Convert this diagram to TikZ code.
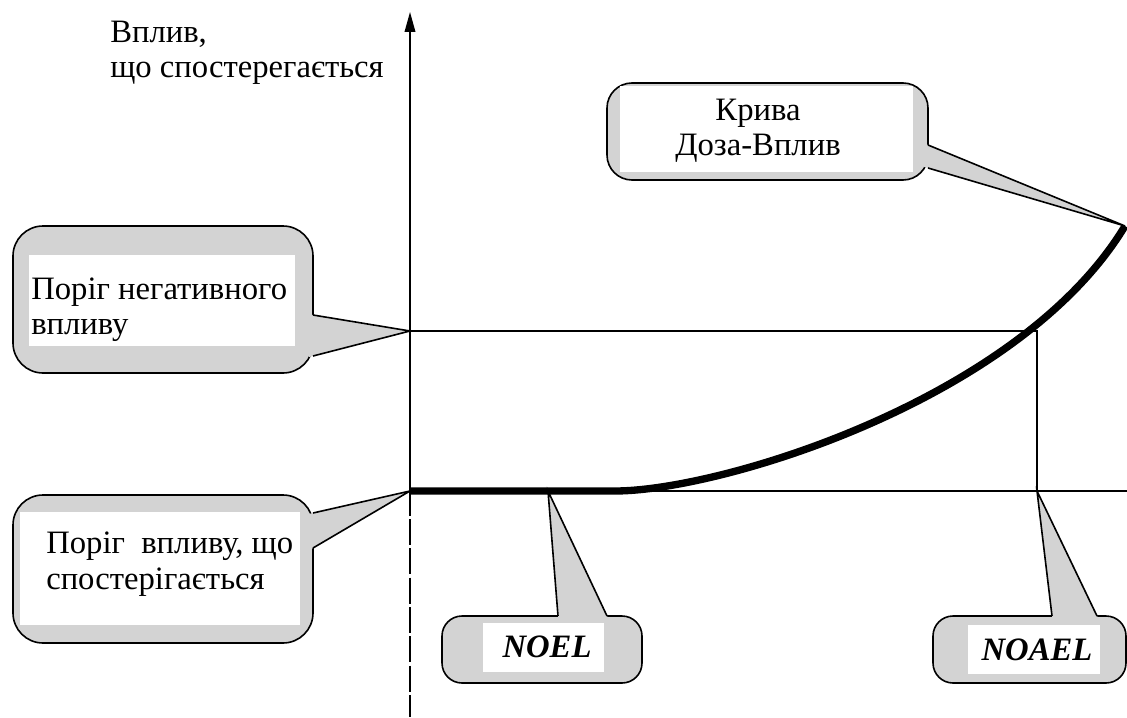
\documentclass[tikz,border=0pt]{standalone}
\usepackage{fontspec}
\setmainfont{Liberation Serif}
\usetikzlibrary{calc,arrows.meta}
\definecolor{calloutgray}{RGB}{211,211,211}

% rounded callout body: name, x1, y1, x2, y2, corner radius (pt)
\newcommand\calloutbox[6]{%
  \node[calbox, minimum width={(#4-#2)*0.75pt}, minimum height={(#5-#3)*0.75pt},
        rounded corners=#6] (#1) at ({(#2+#4)/2},{(#3+#5)/2}) {};}
% pointer of a callout: base point 1, base point 2, tip
\newcommand\drawpointer[3]{%
  \fill[calloutgray] ($(#1)!-3pt!(#3)$) -- (#3) -- ($(#2)!-3pt!(#3)$) -- cycle;
  \draw[calline] (#1) -- (#3) -- (#2);}

\begin{document}
\begin{tikzpicture}[x=0.75pt,y=-0.75pt,
  thin/.style={line width=1.1pt},
  curve/.style={line width=5.5pt},
  calbox/.style={draw, fill=calloutgray, line width=1.2pt, inner sep=0pt, outer sep=0pt},
  calline/.style={line width=1.2pt},
  lbl/.style={font=\fontsize{24.5}{26.5}\selectfont, inner sep=0pt},
  bilbl/.style={font=\fontsize{24.5}{26.5}\selectfont\bfseries\itshape, inner sep=0pt},
  ]
\useasboundingbox (0,0) rectangle (1127,717);

% chart points
\coordinate (AxisTop) at (410,12);
\coordinate (AxisLow) at (410,516);
\coordinate (DashTop) at (410,519);
\coordinate (AxisBot) at (410,717);
\coordinate (O) at (410,491);
\coordinate (T) at (410,331);
\coordinate (C) at (1037,331);
\coordinate (D) at (1037,491);
\coordinate (R) at (1127,491);
\coordinate (N) at (548,491);
\coordinate (Flat) at (615,491);
\coordinate (Kend) at (1125,226);

% axes and guide lines
\draw[thin,-{Triangle[length=15pt,width=8pt]}] (AxisLow) -- (AxisTop);
\draw[thin,dash pattern=on 19.5pt off 2.5pt] (DashTop) -- (AxisBot);
\draw[thin] (T) -- (C) -- (D);
\draw[thin] (O) -- (R);

% dose-response curve
\draw[curve] (O) -- (Flat) .. controls (720,491) and (1020,400) .. (Kend);

% axis label
\node[lbl, anchor=west, align=left] (ylabel) at (110,53) {Вплив,\\що спостерегається};

% callout: curve
\calloutbox{kbox}{607}{83}{928}{180}{18.75pt}
\coordinate (kb1) at ($(kbox.north east)+(0,62)$);
\coordinate (kb2) at ($(kbox.north east)+(0,85)$);
\drawpointer{kb1}{kb2}{Kend}
\fill[white] (620,86) rectangle (913,172);
\node[lbl, align=center] (ktext) at (758,131) {Крива\\Доза-Вплив};

% callout: adverse effect threshold
\calloutbox{abox}{13}{226}{313}{373}{22.5pt}
\coordinate (ab1) at ($(abox.north east)+(0,89)$);
\coordinate (ab2) at ($(abox.north east)+(0,130)$);
\drawpointer{ab1}{ab2}{T}
\fill[white] (29,255) rectangle (295,346);
\node[lbl, anchor=west, align=left] (atext) at (31,310) {Поріг негативного\\впливу};

% callout: observed effect threshold
\calloutbox{obox}{13}{495}{313}{643}{22.5pt}
\coordinate (ob1) at ($(obox.north east)+(0,18)$);
\coordinate (ob2) at ($(obox.north east)+(0,53)$);
\drawpointer{ob1}{ob2}{O}
\fill[white] (20,512) rectangle (300,625);
\node[lbl, anchor=west, align=left] (otext) at (46,564) {Поріг\ \ впливу, що\\спостерігається};

% callout: NOEL
\calloutbox{nbox}{442}{616}{642}{683}{15pt}
\coordinate (nb1) at ($(nbox.north west)+(116,0)$);
\coordinate (nb2) at ($(nbox.north west)+(165,0)$);
\drawpointer{nb1}{nb2}{N}
\fill[white] (483,623) rectangle (604,672);
\node[bilbl, anchor=base] (ntext) at (547,657) {NOEL};

% callout: NOAEL
\calloutbox{nabox}{933}{616}{1126}{683}{15pt}
\coordinate (nab1) at ($(nabox.north west)+(119,0)$);
\coordinate (nab2) at ($(nabox.north west)+(164,0)$);
\drawpointer{nab1}{nab2}{D}
\fill[white] (968,625) rectangle (1100,674);
\node[bilbl, anchor=base] (natext) at (1037,660) {NOAEL};
\end{tikzpicture}
\end{document}
